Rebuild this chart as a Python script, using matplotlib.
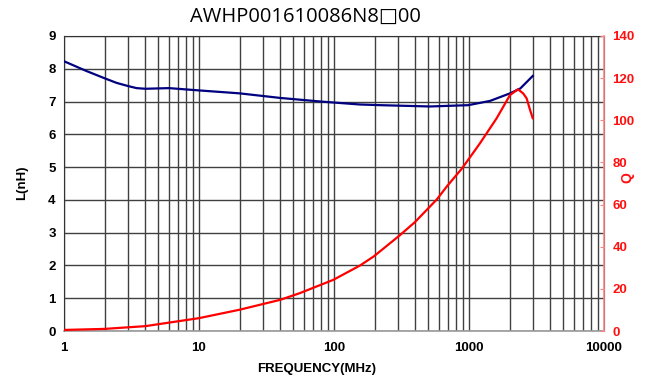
import matplotlib
matplotlib.use("Agg")
import matplotlib.pyplot as plt
from matplotlib.ticker import FixedLocator, NullFormatter

title = "AWHP001610086N8\u25a100"

freq_L = [1, 1.47, 2, 2.45, 3, 3.45, 4, 6, 10, 20, 40, 80, 156, 219, 514, 988, 1432, 2013, 2400, 2965]
L_nH = [8.23, 7.93, 7.71, 7.57, 7.47, 7.41, 7.39, 7.41, 7.34, 7.25, 7.11, 7.00, 6.91, 6.89, 6.85, 6.89, 7.02, 7.25, 7.40, 7.78]

freq_Q = [1, 2, 4, 10, 20, 40, 56, 99, 156, 197, 307, 398, 577, 687, 886, 1086, 1206, 1604, 2013, 2306, 2525, 2673, 2831, 2965]
Q = [0.5, 1.0, 2.3, 6.1, 10.1, 14.8, 18.0, 24.3, 31.1, 35.4, 45.4, 51.7, 62.4, 68.7, 77.1, 85.0, 89.1, 101.0, 112.0, 114.7, 112.7, 110.4, 105.0, 101.0]

x_ticks = [1, 10, 100, 1000, 10000]
x_labels = ["1", "10", "100", "1000", "10000"]
L_ticks = list(range(0, 10))
Q_ticks = list(range(0, 141, 20))

plt.rcParams['font.family'] = ['Liberation Sans', 'DejaVu Sans']

fig = plt.figure(figsize=(6.46, 3.81), dpi=100)
ax = fig.add_axes([64/646, 1-331/381, 540/646, 295/381])
ax2 = ax.twinx()

ax.set_xscale('log')
ax.set_xlim(1, 10000)
ax.set_ylim(0, 9)
ax2.set_ylim(0, 140)

minor = [m * 10**d for d in range(0, 4) for m in range(2, 10)]
ax.xaxis.set_major_locator(FixedLocator(x_ticks))
ax.xaxis.set_minor_locator(FixedLocator(minor))
ax.xaxis.set_minor_formatter(NullFormatter())
ax.set_xticks(x_ticks)
ax.set_xticklabels(x_labels, fontsize=9.5, fontweight='bold')
ax.set_yticks(L_ticks)
ax.set_yticklabels([str(v) for v in L_ticks], fontsize=9.5, fontweight='bold')

gc = '#404040'
ax.grid(True, which='major', axis='both', color=gc, linewidth=1.0)
ax.grid(True, which='minor', axis='x', color=gc, linewidth=1.0)
ax.tick_params(axis='both', which='both', length=0, pad=6)
ax.tick_params(axis='x', pad=8)

ax2.set_yticks(Q_ticks)
ax2.set_yticklabels([str(v) for v in Q_ticks], fontsize=9.5, fontweight='bold', color='#ff1010')
ax2.tick_params(axis='y', direction='in', length=3, color='#ff8080', pad=6)

ax.plot(freq_L, L_nH, color='#000080', linewidth=1.6, zorder=5)
ax2.plot(freq_Q, Q, color='#ff0000', linewidth=1.6, zorder=5)

for s in ['left', 'top']:
    ax.spines[s].set_color('#333333')
ax.spines['bottom'].set_color('#999999')
ax.spines['bottom'].set_linewidth(1.2)
ax2.spines['right'].set_color('#ff9090')
ax2.spines['right'].set_linewidth(1.2)
ax2.spines['left'].set_visible(False)
ax2.spines['top'].set_visible(False)
ax2.spines['bottom'].set_visible(False)

fig.text(305/646, 1-17/381, title, ha='center', va='center', fontsize=14.5,
         family=['Open Sans', 'DejaVu Sans'])
fig.text(22/646, 1-183/381, "L(nH)", rotation=90, ha='center', va='center',
         fontsize=9.5, fontweight='bold')
fig.text(627/646, 1-178/381, "Q", rotation=90, ha='center', va='center',
         fontsize=10, fontweight='bold', color='#ff1010')
fig.text(317/646, 1-369/381, "FREQUENCY(MHz)", ha='center', va='center',
         fontsize=9.5, fontweight='bold')

fig.savefig('out.png', dpi=100)
